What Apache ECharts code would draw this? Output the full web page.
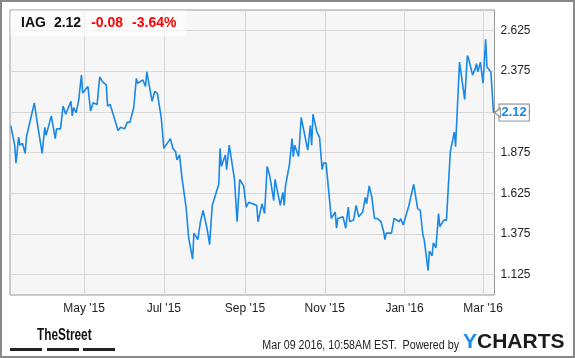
<!DOCTYPE html>
<html>
<head>
<meta charset="utf-8">
<script src="https://cdn.jsdelivr.net/npm/echarts@6/dist/echarts.min.js"></script>
<style>
html,body{margin:0;padding:0;background:#fff;}
#c{width:575px;height:358px;}
</style>
</head>
<body>
<div id="c"></div>
<script>
const dates = ['2015-03-06','2015-03-09','2015-03-10','2015-03-12','2015-03-13','2015-03-15','2015-03-17','2015-03-18','2015-03-24','2015-03-26',
'2015-03-30','2015-04-01','2015-04-02','2015-04-06','2015-04-09','2015-04-10','2015-04-13','2015-04-15','2015-04-17','2015-04-21',
'2015-04-22','2015-04-23','2015-04-25','2015-04-27','2015-04-29','2015-04-30','2015-05-04','2015-05-06','2015-05-08','2015-05-11',
'2015-05-13','2015-05-15','2015-05-18','2015-05-19','2015-05-21','2015-05-27','2015-05-29','2015-06-01','2015-06-03','2015-06-05',
'2015-06-08','2015-06-10','2015-06-11','2015-06-13','2015-06-15','2015-06-17','2015-06-18','2015-06-22','2015-06-24','2015-06-26',
'2015-06-29','2015-07-01','2015-07-06','2015-07-08','2015-07-10','2015-07-11','2015-07-13','2015-07-15','2015-07-18','2015-07-20',
'2015-07-23','2015-07-24','2015-07-27','2015-07-29','2015-07-31','2015-08-03','2015-08-05','2015-08-07','2015-08-12','2015-08-13',
'2015-08-14','2015-08-17','2015-08-18','2015-08-20','2015-08-24','2015-08-26','2015-08-28','2015-08-31','2015-09-02','2015-09-04',
'2015-09-10','2015-09-11','2015-09-14','2015-09-16','2015-09-18','2015-09-20','2015-09-23','2015-09-24','2015-09-28','2015-09-30',
'2015-10-01','2015-10-02','2015-10-05','2015-10-07','2015-10-08','2015-10-09','2015-10-12','2015-10-14','2015-10-15','2015-10-19',
'2015-10-21','2015-10-22','2015-10-23','2015-10-26','2015-10-28','2015-10-30','2015-10-31','2015-11-02','2015-11-06','2015-11-09',
'2015-11-10','2015-11-11','2015-11-15','2015-11-17','2015-11-19','2015-11-20','2015-11-23','2015-11-25','2015-11-27','2015-11-30',
'2015-12-02','2015-12-03','2015-12-05','2015-12-07','2015-12-09','2015-12-11','2015-12-14','2015-12-16','2015-12-17','2015-12-18',
'2015-12-22','2015-12-24','2015-12-28','2015-12-29','2015-12-31','2016-01-04','2016-01-08','2016-01-11','2016-01-13','2016-01-15',
'2016-01-16','2016-01-19','2016-01-20','2016-01-22','2016-01-23','2016-01-25','2016-01-27','2016-01-28','2016-01-31','2016-02-02',
'2016-02-05','2016-02-08','2016-02-09','2016-02-12','2016-02-16','2016-02-18','2016-02-19','2016-02-22','2016-02-24','2016-02-25',
'2016-02-26','2016-02-28','2016-03-01','2016-03-03','2016-03-04','2016-03-07','2016-03-09'];

const prices = [2.04,1.92,1.81,1.97,1.92,1.93,1.87,1.97,2.18,2.07,
1.87,2.03,1.98,2.10,1.96,2.02,2.02,2.16,2.11,2.19,
2.10,2.15,2.12,2.20,2.35,2.24,2.28,2.13,2.18,2.17,
2.34,2.31,2.29,2.16,2.17,2.01,2.03,2.02,2.06,2.06,
2.15,2.33,2.30,2.31,2.32,2.28,2.37,2.19,2.25,2.24,
2.09,1.90,1.96,1.90,1.88,1.83,1.86,1.71,1.54,1.35,
1.22,1.38,1.34,1.45,1.52,1.41,1.31,1.55,1.68,1.90,
1.79,1.86,1.77,1.92,1.71,1.45,1.71,1.67,1.54,1.57,
1.55,1.45,1.56,1.50,1.79,1.73,1.58,1.71,1.55,1.63,
1.55,1.67,1.80,1.96,1.85,1.92,1.85,2.09,2.10,1.89,
2.04,1.92,2.11,2.00,1.97,1.77,1.81,1.81,1.47,1.51,
1.41,1.47,1.48,1.41,1.54,1.45,1.46,1.55,1.48,1.51,
1.60,1.56,1.67,1.60,1.47,1.47,1.45,1.39,1.34,1.38,
1.38,1.47,1.45,1.47,1.43,1.54,1.68,1.53,1.52,1.37,
1.34,1.15,1.27,1.24,1.32,1.29,1.50,1.42,1.46,1.46,
1.88,2.00,1.91,2.43,2.20,2.47,2.45,2.35,2.39,2.42,
2.37,2.43,2.30,2.57,2.40,2.37,2.12];

const xTickDates = ['2015-05-01','2015-07-01','2015-09-01','2015-11-01','2016-01-01','2016-03-01'];
const xTickLabels = ["May '15","Jul '15","Sep '15","Nov '15","Jan '16","Mar '16"];
const yTickValues = [1.125,1.375,1.625,1.875,2.125,2.375,2.625];

const header = {symbol:'IAG', last:'2.12', change:'-0.08', pct:'-3.64%'};
const footerText = 'Mar 09 2016, 10:58AM EST.  Powered by';

function ts(s){ const p = s.split('-').map(Number); return new Date(p[0], p[1]-1, p[2]).getTime(); }
const xTickTs = xTickDates.map(ts);
const seriesData = dates.map((d,i)=>[ts(d), prices[i]]);
const xMin = new Date(2015,2,5,10).getTime();
const xMax = new Date(2016,2,9,18).getTime();

const chart = echarts.init(document.getElementById('c'), null, {renderer:'canvas'});
const FONT = '"Liberation Sans", Arial, sans-serif';

chart.setOption({
  animation:false,
  backgroundColor:'#fff',
  grid:{left:10, right:80.5, top:10, bottom:63, show:true, backgroundColor:'#f6f6f6', borderColor:'#999', borderWidth:1},
  xAxis:{
    type:'value', min:xMin, max:xMax, scale:true,
    axisLine:{show:false}, axisTick:{show:false, customValues:xTickTs},
    axisLabel:{customValues:xTickTs, color:'#222', fontSize:12, fontFamily:FONT, margin:8,
      formatter:function(v){ const i = xTickTs.indexOf(v); return i>=0 ? xTickLabels[i] : ''; }},
    splitLine:{show:true, lineStyle:{color:'#d8d8d8', width:1}}
  },
  yAxis:{
    type:'value', position:'right', min:1.0, max:2.75, interval:0.125,
    axisLine:{show:false}, axisTick:{show:false},
    axisLabel:{color:'#222', fontSize:12, fontFamily:FONT, margin:6,
      formatter:function(v){ for (const t of yTickValues) if (Math.abs(t-v)<1e-6) return t.toFixed(3); return ''; }},
    splitLine:{show:true, lineStyle:{color:['rgba(0,0,0,0)','#d8d8d8'], width:1}}
  },
  series:[{
    type:'line', data:seriesData, showSymbol:false, symbol:'none',
    lineStyle:{color:'#1a88e6', width:1.6},
    clip:false,
    endLabel:{show:true, distance:6, formatter:function(p){return p.value[1].toFixed(2);},
      color:'#1a88e6', fontWeight:'bold', fontSize:13, fontFamily:FONT,
      backgroundColor:'#fff', borderColor:'#888', borderWidth:1, padding:[2,2,1,2]},
    markPoint:{
      silent:true,
      symbol:'triangle', symbolSize:[9,6], symbolRotate:90, symbolOffset:[4,0],
      itemStyle:{color:'#fff', borderColor:'#888', borderWidth:1},
      label:{show:false},
      data:[{coord:seriesData[seriesData.length-1]}]
    }
  }],
  graphic:[
    {type:'rect', z:100, shape:{x:1, y:1, width:573, height:356}, style:{fill:'none', stroke:'#888', lineWidth:2}},
    {type:'rect', z:50, shape:{x:10.5, y:10.5, width:176, height:26}, style:{fill:'rgba(252,252,252,0.75)'}},
    {type:'text', z:60, left:21, top:16, style:{
      text:'{b|'+header.symbol+'}{b2|'+header.last+'}{r|'+header.change+'}{r2|'+header.pct+'}',
      rich:{
        b:{fontSize:14, fontWeight:'bold', fill:'#111', fontFamily:FONT},
        b2:{fontSize:14, fontWeight:'bold', fill:'#111', fontFamily:FONT, padding:[0,0,0,8]},
        r:{fontSize:14, fontWeight:'bold', fill:'#f00', fontFamily:FONT, padding:[0,0,0,10]},
        r2:{fontSize:14, fontWeight:'bold', fill:'#f00', fontFamily:FONT, padding:[0,0,0,9]}
      }}},
    {type:'text', z:60, x:37, y:328, scaleX:0.74, style:{text:'TheStreet', fontSize:16, fontWeight:'bold', fill:'#111', fontFamily:FONT, verticalAlign:'top'}},
    {type:'rect', z:60, shape:{x:10, y:348, width:32, height:3}, style:{fill:'#222'}},
    {type:'rect', z:60, shape:{x:47, y:348, width:32, height:3}, style:{fill:'#222'}},
    {type:'rect', z:60, shape:{x:83, y:348, width:32, height:3}, style:{fill:'#222'}},
    {type:'text', z:60, x:459, y:339, scaleX:0.855, style:{text:footerText, fontSize:12.5, fill:'#222', fontFamily:FONT, align:'right', verticalAlign:'top'}},
    {type:'text', z:60, left:463, top:332, style:{
      text:'{y|Y}{c|CHARTS}',
      rich:{y:{fontSize:21, fontWeight:'bold', fill:'#1a8cf0', fontFamily:FONT}, c:{fontSize:21, fontWeight:'bold', fill:'#1b1b1b', fontFamily:FONT}}}}
  ]
});
</script>
</body>
</html>
